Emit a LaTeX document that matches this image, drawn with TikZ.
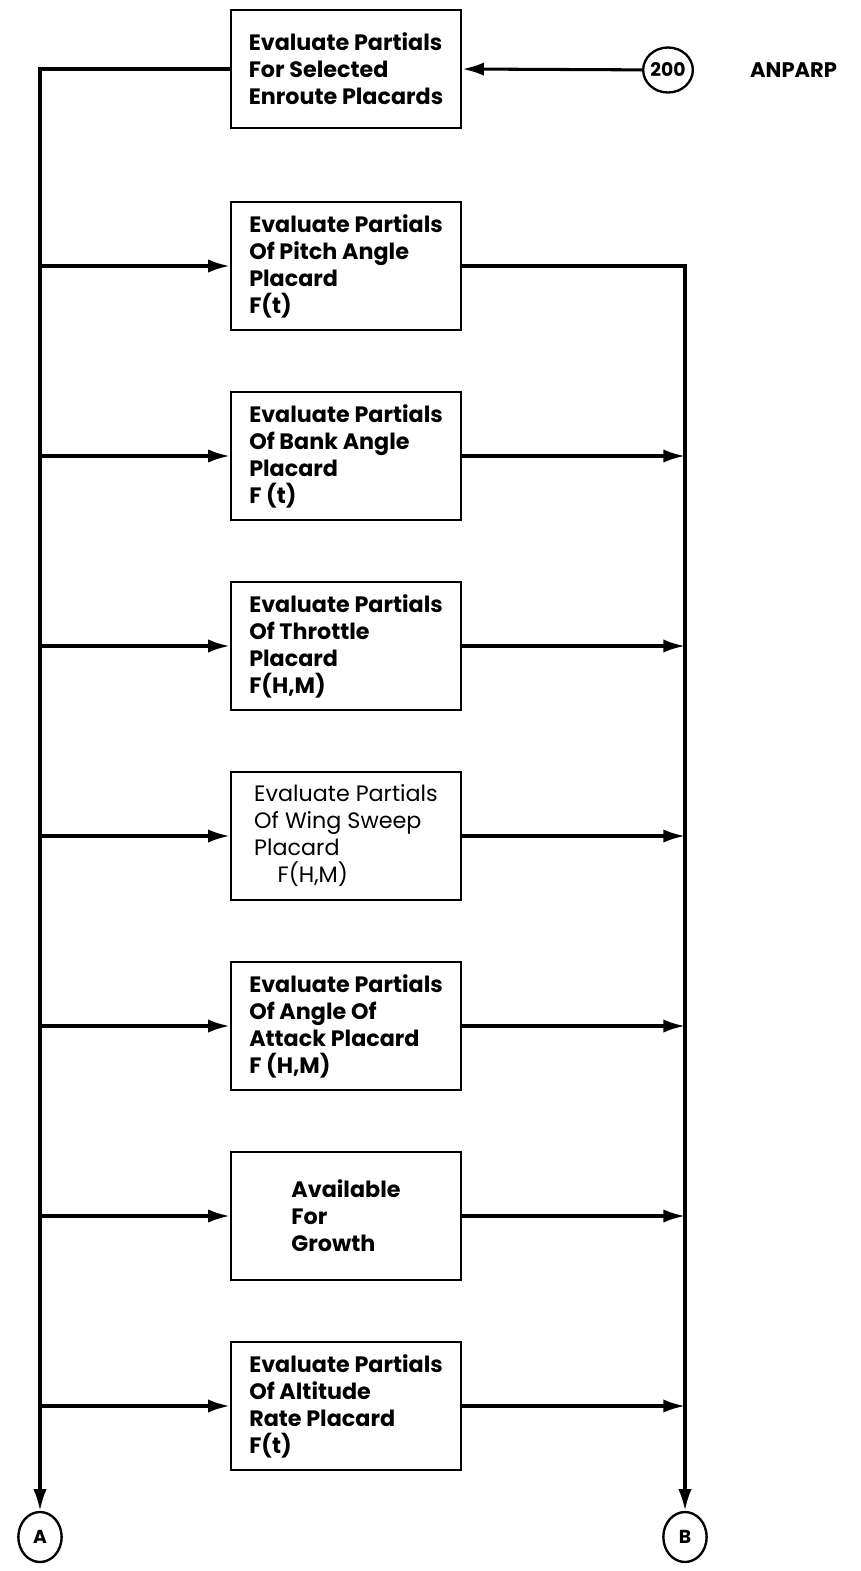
\documentclass[tikz,border=0pt]{standalone}
\usepackage{fontspec}
\setmainfont{Poppins}
\usetikzlibrary{arrows.meta,shapes.geometric}

\begin{document}
\begin{tikzpicture}[x=0.3mm, y=-0.3mm,
  proc/.style={draw, line width=2.2pt, minimum width=69mm, minimum height=38.4mm,
               align=left, inner sep=0pt, font=\fontsize{19}{23}\selectfont\bfseries},
  conn/.style={draw, ellipse, line width=2pt, minimum width=13mm, minimum height=15mm,
               inner sep=0pt, font=\fontsize{16}{18}\selectfont\bfseries},
  flow/.style={-{Latex[length=6.5mm,width=4mm]}, line width=2.6pt},
  line/.style={line width=2.6pt},
  lbl/.style={font=\fontsize{18}{20}\selectfont\bfseries}
]
\useasboundingbox (0,0) rectangle (861,1571);

%% -- Entry and off-page connectors -------------------------------------------
\node[proc, minimum height=35.4mm] (enroute) at (346,69)
  {Evaluate Partials\\For Selected\\Enroute Placards};
\node[conn, minimum width=13.5mm, minimum height=13.5mm] (c200) at (668,70) {200};
\node[lbl, anchor=west] (anparp) at (746,70) {ANPARP};
\node[conn] (outA) at (40,1537) {A};
\node[conn] (outB) at (685,1537) {B};

%% -- Placard boxes -------------------------------------------------------------
\node[proc] (pitch)    at (346,266)  {Evaluate Partials\\Of Pitch Angle\\Placard\\F(t)};
\node[proc] (bank)     at (346,456)  {Evaluate Partials\\Of Bank Angle\\Placard\\F (t)};
\node[proc] (throttle) at (346,646)  {Evaluate Partials\\Of Throttle\\Placard\\F(H,M)};
\node[proc, font=\fontsize{19}{23}\selectfont\mdseries] (sweep) at (346,836)
  {Evaluate Partials\\Of Wing Sweep\\Placard\\\hspace*{7mm}F(H,M)};
\node[proc] (attack)   at (346,1026) {Evaluate Partials\\Of Angle Of\\Attack Placard\\F (H,M)};
\node[proc] (growth)   at (346,1216) {Available\\For\\Growth};
\node[proc] (altrate)  at (346,1406) {Evaluate Partials\\Of Altitude\\Rate Placard\\F(t)};

%% -- Trunks ---------------------------------------------------------------------
\draw[flow] (c200) -- (enroute.east);
\draw[flow] (enroute.west) -| (outA.north);
\draw[flow] (pitch.east) -| (outB.north);

%% -- Left branches into the boxes ------------------------------------------------
\draw[flow] (pitch.west -| outA)    -- (pitch.west);
\draw[flow] (bank.west -| outA)     -- (bank.west);
\draw[flow] (throttle.west -| outA) -- (throttle.west);
\draw[flow] (sweep.west -| outA)    -- (sweep.west);
\draw[flow] (attack.west -| outA)   -- (attack.west);
\draw[flow] (growth.west -| outA)   -- (growth.west);
\draw[flow] (altrate.west -| outA)  -- (altrate.west);

%% -- Right branches into the B trunk ---------------------------------------------
\draw[flow] (bank.east)     -- (bank.east -| outB);
\draw[flow] (throttle.east) -- (throttle.east -| outB);
\draw[flow] (sweep.east)    -- (sweep.east -| outB);
\draw[flow] (attack.east)   -- (attack.east -| outB);
\draw[flow] (growth.east)   -- (growth.east -| outB);
\draw[flow] (altrate.east)  -- (altrate.east -| outB);

\end{tikzpicture}
\end{document}
